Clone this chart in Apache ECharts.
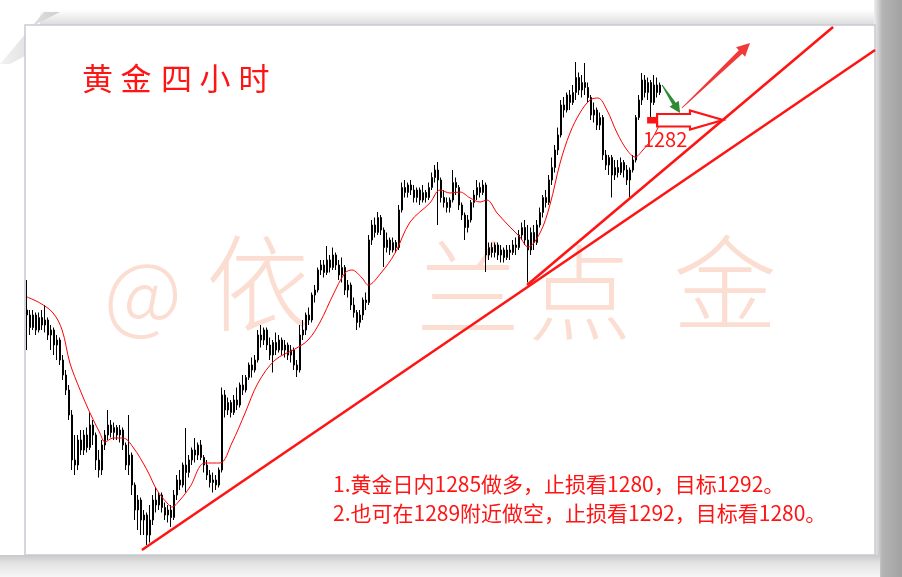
<!DOCTYPE html>
<html><head><meta charset="utf-8">
<script src="https://cdn.jsdelivr.net/npm/echarts@6/dist/echarts.min.js"></script>
<style>html,body{margin:0;padding:0;background:#fff}#c{width:902px;height:577px}</style>
</head><body><div id="c"></div>
<script>
// ---- candle data (4H gold), index 0..211 ----
const opens = [1244,1243,1240.5,1243,1240,1242.5,1241,1242,1239,1240,1237,1238,1234,1231,1228,1223,1214,1213,1218,1216,
1219,1216.5,1221,1219,1214,1212,1217,1219,1221,1219.5,1220.5,1219,1220,1217,1213,1215,1209,1204,1206,1202,
1203,1199,1202,1206,1205,1207,1204.5,1203,1204,1202.5,1207,1210,1209,1213,1211.5,1214,1216,1215,1217,1214.5,
1213,1211,1209.5,1210,1209,1212,1227,1224,1225.5,1223.5,1226,1225,1229,1228,1230.5,1233,1232,1234,1239,1238,
1240,1237,1235,1237.5,1236,1238,1236,1237,1235,1236,1233,1232,1239,1240,1243,1242,1247,1248,1252,1253,
1251.5,1254,1252.5,1255,1253,1251,1252.5,1248,1249,1245,1243.5,1241.5,1243,1246,1245.5,1258,1261,1259.5,1262.5,1260,
1256.5,1258,1256,1257.5,1256.5,1264,1268.5,1267.5,1269,1268,1266.5,1268,1266,1267.5,1266.5,1268.5,1270.5,1272,1270,1266.5,
1265.5,1264.5,1266,1269.5,1268.5,1265,1263,1260.5,1262,1265.5,1267,1268.5,1267.5,1269,1255,1256.5,1255.5,1257,1255,1256,
1254.5,1256,1255.5,1257,1256.5,1259,1260.5,1258,1256,1259.5,1257.5,1261,1263.5,1266.5,1265.5,1270,1272.5,1276,1279,1285,
1284,1287,1285.5,1287.5,1290.5,1288,1289.5,1288.5,1286.5,1283,1284,1281,1282.5,1275,1273,1274.5,1271,1272.5,1271.5,1273.5,
1272,1270,1272,1274,1282.5,1286,1290,1287.5,1289.5,1285.5,1289,1287.5];
const closes = [1243,1240.5,1243,1240,1242.5,1241,1242,1239,1240,1237,1238,1234,1231,1228,1223,1214,1213,1218,1216,1219,
1216.5,1221,1219,1214,1212,1217,1219,1221,1219.5,1220.5,1219,1220,1217,1213,1215,1209,1204,1206,1202,1203,
1199,1202,1206,1205,1207,1204.5,1203,1204,1202.5,1207,1210,1209,1213,1211.5,1214,1216,1215,1217,1214.5,1213,
1211,1209.5,1210,1209,1212,1227,1224,1225.5,1223.5,1226,1225,1229,1228,1230.5,1233,1232,1234,1239,1238,1240,
1237,1235,1237.5,1236,1238,1236,1237,1235,1236,1233,1232,1239,1240,1243,1242,1247,1248,1252,1253,1251.5,
1254,1252.5,1255,1253,1251,1252.5,1248,1249,1245,1243.5,1241.5,1243,1246,1245.5,1258,1261,1259.5,1262.5,1260,1256.5,
1258,1256,1257.5,1256.5,1264,1268.5,1267.5,1269,1268,1266.5,1268,1266,1267.5,1266.5,1268.5,1270.5,1272,1270,1266.5,1265.5,
1264.5,1266,1269.5,1268.5,1265,1263,1260.5,1262,1265.5,1267,1268.5,1267.5,1269,1255,1256.5,1255.5,1257,1255,1256,1254.5,
1256,1255.5,1257,1256.5,1259,1260.5,1258,1256,1259.5,1257.5,1261,1263.5,1266.5,1265.5,1270,1272.5,1276,1279,1285,1284,
1287,1285.5,1287.5,1290.5,1288,1289.5,1288.5,1286.5,1283,1284,1281,1282.5,1275,1273,1274.5,1271,1272.5,1271.5,1273.5,1272,
1270,1272,1274,1282.5,1286,1290,1287.5,1289.5,1285.5,1289,1287.5,1289];
const lows = [1236,1239,1240,1239,1239.5,1240,1239.5,1238,1236,1235,1234,1233,1230,1227,1222,1212,1211,1212,1215,1215,
1215.5,1216,1217,1212,1210.5,1211,1216,1218,1218.5,1218,1218,1217.5,1216,1212,1211,1207,1202,1200,1199,1199,
1197,1197.5,1201,1203.5,1204,1203.5,1202,1201.5,1200.6,1202,1206,1208,1208.5,1207.5,1210.5,1213,1213.5,1214,1214,1211.5,
1210,1208.5,1207.5,1208,1208.5,1211.5,1222.5,1223,1222.5,1223,1224,1224.5,1227,1227.5,1230,1230.5,1231.5,1233.5,1236.5,1237,
1236,1234,1231.5,1235,1235.5,1235,1234.5,1234,1233.5,1232,1230.6,1231.5,1238,1239,1241,1241.5,1245.5,1247.5,1251,1250.5,
1251,1251.5,1252,1252,1250,1249.5,1247,1246.5,1244,1242.5,1240,1240.5,1242,1244,1245,1257,1258.5,1259,1259,1252.6,
1255.5,1255,1255.5,1255.5,1256,1263.5,1266.5,1266.5,1267,1265.5,1265.5,1265,1265.5,1265.5,1266,1268,1269.5,1261,1265.5,1264.5,
1263.5,1263.5,1265.5,1267,1264,1262,1258,1259.5,1261.5,1264.5,1266,1266.5,1267,1251.6,1254,1254.5,1254.5,1254,1253.5,1253.5,
1254,1254,1255,1255,1256,1258,1257,1249.5,1255,1256,1257,1260.5,1262.5,1264.5,1265,1269,1271.5,1275,1278.5,1282.5,
1283.5,1284,1285,1286,1287,1286.5,1287,1285.5,1282,1281.5,1280,1280,1274,1272,1271,1266.5,1270,1270.5,1271,1270.5,
1269,1266.6,1271.5,1273.5,1282,1285,1286.5,1286,1282.6,1285,1286.5,1287];
const highs = [1250,1244,1244,1243.5,1243.5,1244,1245,1242.5,1241,1240.5,1239,1238.5,1235,1232,1229,1224,1219,1219,1220,1220,
1220.5,1223.5,1222,1219.5,1216,1218,1220,1224,1222,1221.5,1221,1221,1220.5,1217.5,1223,1215.5,1209.5,1207,1206.5,1204,
1203.5,1205,1207,1208.6,1207.5,1207.5,1205.5,1205,1205,1208,1211,1212,1213.5,1220.4,1215,1216.5,1218.4,1217.5,1218,1215,
1214,1212,1211.5,1211,1212.5,1228.5,1228,1226.5,1226,1227,1228.5,1229.5,1231,1231,1233.5,1234.5,1235,1240,1241,1240.5,
1240.5,1238.5,1238,1239.5,1239,1238.5,1238,1237.5,1237,1236.5,1234,1241,1242,1243.5,1244.5,1247.5,1249,1252.5,1254,1254,
1256.8,1255,1256.5,1255.5,1254,1254.5,1253,1250,1249.5,1246.5,1244,1244,1246.5,1247.5,1259,1262,1262.5,1263.6,1263,1260.5,
1259.5,1258.5,1258.5,1258,1265,1269.5,1270,1269.5,1270,1269,1268.5,1268.5,1269,1268,1269.5,1271.5,1273,1273.6,1270.5,1268,
1266.5,1266.5,1272,1270.5,1269,1265.5,1263.5,1263,1266,1268,1270,1269.5,1270,1269.5,1257.5,1257.5,1257.5,1257.5,1257,1256.5,
1257,1257,1258,1258.5,1260,1261.5,1262,1261,1260.5,1261,1262,1264.5,1267,1268,1271,1274.5,1277,1280.5,1286,1286.6,
1287.5,1288,1289,1293.6,1291.5,1291,1293.4,1289.5,1287,1285.5,1284.5,1283.5,1283,1276,1275,1275,1274,1274,1274.5,1274,
1273,1272.5,1275,1283,1287,1291.4,1291,1290.5,1290,1291,1290.5,1289.5];

// ---- moving average (candle index, price) ----
const maIndex = [0,4.3,8.7,11.7,14.3,17.7,21,24.3,26,28.7,32,35.3,40,43.3,46.7,48.3,51,54.3,59.3,64.3,
68.3,72.7,77,82.7,89.3,93.7,97.7,102,106,108.3,111.7,113.7,118,122.7,127.7,134.3,137.7,141,144.3,147.7,
151,153.3,156.7,161,164.3,167,171,174.3,177.7,181,184.3,187.7,190.3,193.3,196.7,200,202.7,205.3,208.7,212];
const maValues = [1246.6,1245.4,1243.4,1240,1233.4,1228,1223.4,1219.4,1217.6,1218.4,1218.4,1216.6,1212,1208,1205.4,1204.6,1206,1208.6,1213.4,1213.4,
1217.4,1223.4,1229.4,1234,1236.2,1238,1241.6,1247,1251.4,1252,1250.4,1249,1251.4,1255.4,1261.6,1265.4,1268,1267.4,1267.6,1266.4,
1265.6,1266,1263.4,1260.6,1258.6,1256.6,1259.4,1265,1273.4,1279.4,1283.4,1286,1286.4,1284,1279.4,1276,1274.6,1276,1278.6,1282.6];

// ---- drawn trend lines & annotations (index, price) ----
const trendLong = [[38.3,1196],[282.7,1296]];
const trendSteep = [[166.7,1249],[268.7,1300.6]];
const upArrow = [218.3,1284.4,241,1297.4];
const greenArrow = [211.7,1289,217.7,1283.4];
const hollowArrow = [206.7,1282,232,1282];
const levelLabel = [205.3,1278.2,'1282'];

const titleChars = ['黄','金','四','小','时'];
const noteLines = ['1.黄金日内1285做多，止损看1280，目标1292。','2.也可在1289附近做空，止损看1292，目标看1280。'];
const watermarkChars = ['@','依','兰','点','金'];

const candleData = opens.map((o,k)=>[k,o,closes[k],lows[k],highs[k]]);
const maData = maIndex.map((x,k)=>[x,maValues[k]]);

const CJK = '"Noto Sans CJK SC","Noto Sans",sans-serif';
const RED = '#ff1414';

function taperArrow(color, w0, w1, hw, hl){
  return function(params, api){
    const p1 = api.coord([api.value(0), api.value(1)]);
    const p2 = api.coord([api.value(2), api.value(3)]);
    const dx = p2[0]-p1[0], dy = p2[1]-p1[1];
    const len = Math.sqrt(dx*dx+dy*dy);
    const ux = dx/len, uy = dy/len, nx = -uy, ny = ux;
    const bx = p2[0]-ux*hl, by = p2[1]-uy*hl;
    const pts = [
      [p1[0]+nx*w0/2, p1[1]+ny*w0/2],
      [bx+nx*w1/2, by+ny*w1/2],
      [bx+nx*hw/2, by+ny*hw/2],
      [p2[0], p2[1]],
      [bx-nx*hw/2, by-ny*hw/2],
      [bx-nx*w1/2, by-ny*w1/2],
      [p1[0]-nx*w0/2, p1[1]-ny*w0/2]
    ];
    return {type:'polygon', shape:{points:pts}, style:{fill:color}};
  };
}

function hollowRender(params, api){
  const p1 = api.coord([api.value(0), api.value(1)]);
  const p2 = api.coord([api.value(2), api.value(3)]);
  const c = p1[1];
  const x0 = p1[0], x1 = x0+10, xb = p2[0]-33, xt = p2[0];
  return {type:'group', children:[
    {type:'rect', shape:{x:x0, y:c-3, width:11, height:6.5}, style:{fill:RED}},
    {type:'polygon', shape:{points:[[x1,c-6],[xb,c-6],[xb,c-9.5],[xt,c],[xb,c+9.5],[xb,c+6.5],[x1,c+6.5]]},
     style:{fill:'#ffffff', stroke:RED, lineWidth:2.2}}
  ]};
}

function labelRender(params, api){
  const p = api.coord([api.value(0), api.value(1)]);
  return {type:'text', x:p[0], y:p[1], style:{text:levelLabel[2], fill:RED, fontSize:20, fontFamily:CJK, align:'left', verticalAlign:'middle'}};
}

const wmPos = [[143,292],[258,283],[468,288],[580,293],[725,283]];
const titleX = [97.5,136,176.5,215,254];

const graphics = [
  {type:'rect', shape:{x:0,y:0,width:902,height:577}, style:{fill:'#ffffff'}},
  {type:'rect', shape:{x:40,y:10,width:840,height:15}, style:{fill:{type:'linear',x:0,y:0,x2:0,y2:1,colorStops:[{offset:0,color:'#ffffff'},{offset:1,color:'#dcdcdc'}]}}},
  {type:'polygon', shape:{points:[[0,64],[44,12],[60,12],[25,30],[25,56],[10,64]]}, style:{fill:{type:'linear',x:0,y:0,x2:1,y2:0,colorStops:[{offset:0,color:'#f2f2f2'},{offset:1,color:'#cfcfcf'}]}}},
  {type:'rect', shape:{x:874,y:0,width:28,height:577}, style:{fill:{type:'linear',x:0,y:0,x2:1,y2:0,colorStops:[{offset:0,color:'#eeeeee'},{offset:0.3,color:'#b4b4b4'},{offset:1,color:'#a2a2a2'}]}}},
  {type:'rect', shape:{x:0,y:555,width:880,height:22}, style:{fill:{type:'linear',x:0,y:0,x2:0,y2:1,colorStops:[{offset:0,color:'#c8c8c8'},{offset:0.35,color:'#e2e2e2'},{offset:1,color:'#f6f6f6'}]}}},
  {type:'rect', shape:{x:25,y:25,width:850,height:530}, style:{fill:'#ffffff', stroke:'#c6cbd3', lineWidth:1.5}}
];
watermarkChars.forEach((ch,k)=>{
  graphics.push({type:'text', x:wmPos[k][0], y:wmPos[k][1], style:{text:ch, fill:'rgba(240,130,90,0.27)', fontSize: k===0?86:104, fontFamily:CJK, fontWeight:300, align:'center', verticalAlign:'middle'}});
});
titleChars.forEach((ch,k)=>{
  graphics.push({type:'text', x:titleX[k], y:78, style:{text:ch, fill:RED, fontSize:31, fontFamily:CJK, align:'center', verticalAlign:'middle'}});
});
noteLines.forEach((t,k)=>{
  graphics.push({type:'text', x:333, y:484+k*29, style:{text:t, fill:RED, fontSize:21, fontFamily:CJK, align:'left', verticalAlign:'middle'}});
});

const chart = echarts.init(document.getElementById('c'), null, {renderer:'canvas'});
chart.setOption({
  animation:false,
  backgroundColor:'#ffffff',
  graphic: graphics,
  grid:{left:0, top:0, width:902, height:577, containLabel:false},
  xAxis:{type:'value', min:-9, max:291.67, show:false},
  yAxis:{type:'value', min:1190.6, max:1306, show:false, scale:true},
  series:[
    {type:'candlestick', data:candleData, barWidth:2, z:3,
     itemStyle:{color:'#ffffff', color0:'#000000', borderColor:'#000000', borderColor0:'#000000', borderWidth:1}},
    {type:'line', data:maData, smooth:0.35, symbol:'none', z:4, lineStyle:{color:'#ff0000', width:1}},
    {type:'line', data:trendLong, symbol:'none', z:5, lineStyle:{color:RED, width:2.6}},
    {type:'line', data:trendSteep, symbol:'none', z:5, lineStyle:{color:RED, width:2.6}},
    {type:'custom', data:[upArrow], renderItem:taperArrow('#f03a3a',1,5,13,13), z:6},
    {type:'custom', data:[greenArrow], renderItem:taperArrow('#2e8a34',1,4,11,11), z:6},
    {type:'custom', data:[hollowArrow], renderItem:hollowRender, z:6},
    {type:'custom', data:[levelLabel], renderItem:labelRender, z:6}
  ]
});
</script></body></html>
